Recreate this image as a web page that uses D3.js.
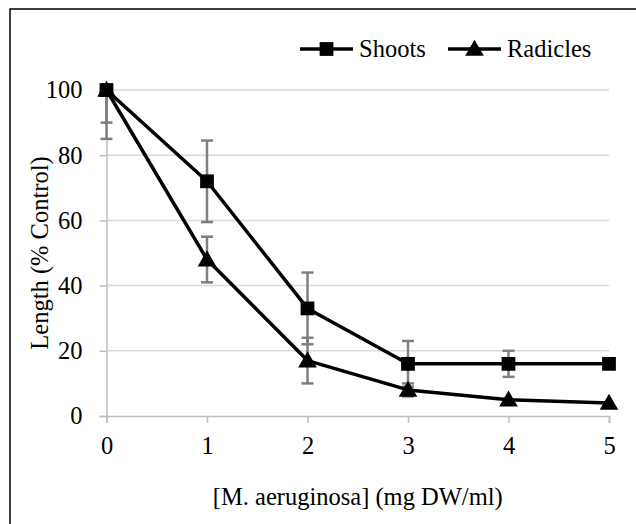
<!DOCTYPE html>
<html><head><meta charset="utf-8">
<script src="https://cdn.jsdelivr.net/npm/d3@7"></script>
<style>html,body{margin:0;padding:0;background:#fff;}svg{display:block;}
svg text{font-family:"Liberation Serif","Times New Roman",Times,serif !important;}</style>
</head><body>
<svg id="chart" width="636" height="524"></svg>
<script>
const concentrations = [0, 1, 2, 3, 4, 5];
const shoots = [100, 72, 33, 16, 16, 16];
const shootsErr = [10, 12.5, 11, 7, 4, 0];
const radicles = [100, 48, 17, 8, 5, 4];
const radiclesErr = [15, 7, 7, 2, 0, 0];
const yTicks = [0, 20, 40, 60, 80, 100];
const xTicks = [0, 1, 2, 3, 4, 5];
const seriesNames = ["Shoots", "Radicles"];

const svg = d3.select("#chart");
const font = "Liberation Serif";
const fs = 24.5;

svg.append("rect").attr("x", 10).attr("y", 9).attr("width", 640).attr("height", 540)
  .attr("fill", "#fff").attr("stroke", "#000").attr("stroke-width", 1.5);

const x = d3.scaleLinear().domain([0, 5]).range([106.5, 609]);
const y = d3.scaleLinear().domain([0, 100]).range([416, 90]);

// gridlines
svg.append("g").selectAll("line").data(yTicks.filter(d => d > 0)).join("line")
  .attr("x1", x(0)).attr("x2", x(5)).attr("y1", d => y(d)).attr("y2", d => y(d))
  .attr("stroke", "#d9d9d9").attr("stroke-width", 1.5);

// y axis
const yAxis = svg.append("g").attr("transform", `translate(${x(0)},0)`)
  .call(d3.axisLeft(y).tickValues(yTicks).tickSize(7).tickPadding(17));
yAxis.attr("font-family", null);
yAxis.select(".domain").attr("stroke", "#bfbfbf").attr("stroke-width", 1.5);
yAxis.selectAll(".tick line").attr("stroke", "#bfbfbf").attr("stroke-width", 1.5);
yAxis.selectAll("text").style("font-family", font).style("font-size", fs + "px").attr("fill", "#000");

// x axis
const xAxis = svg.append("g").attr("transform", `translate(0,${y(0)})`)
  .call(d3.axisBottom(x).tickValues(xTicks).tickSize(7).tickPadding(14).tickFormat(d3.format("d")));
xAxis.attr("font-family", null);
xAxis.select(".domain").attr("stroke", "#bfbfbf").attr("stroke-width", 1.5);
xAxis.selectAll(".tick line").attr("stroke", "#bfbfbf").attr("stroke-width", 1.5);
xAxis.selectAll("text").style("font-family", font).style("font-size", fs + "px").attr("fill", "#000");

// titles
svg.append("text").attr("x", (x(0) + x(5)) / 2).attr("y", 505).attr("text-anchor", "middle")
  .style("font-family", font).style("font-size", fs + "px").text("[M. aeruginosa] (mg DW/ml)");
svg.append("text").attr("transform", `translate(48,${y(50)}) rotate(-90)`).attr("text-anchor", "middle")
  .style("font-family", font).style("font-size", fs + "px").text("Length (% Control)");

// clip for error bars
svg.append("clipPath").attr("id", "plotclip").append("rect")
  .attr("x", 0).attr("y", y(100)).attr("width", 636).attr("height", 524);

const series = [
  {name: seriesNames[0], vals: shoots, err: shootsErr, sym: d3.symbolSquare, size: 190},
  {name: seriesNames[1], vals: radicles, err: radiclesErr, sym: d3.symbolTriangle, size: 150}
];

// error bars
series.forEach(s => {
  const g = svg.append("g").attr("clip-path", "url(#plotclip)").attr("stroke", "#7f7f7f").attr("stroke-width", 2.5);
  concentrations.forEach((c, i) => {
    const e = s.err[i];
    if (!e) return;
    const cx = x(c), yl = y(s.vals[i] - e), yh = y(s.vals[i] + e);
    g.append("line").attr("x1", cx).attr("x2", cx).attr("y1", yl).attr("y2", yh);
    g.append("line").attr("x1", cx - 6).attr("x2", cx + 6).attr("y1", yl).attr("y2", yl);
    g.append("line").attr("x1", cx - 6).attr("x2", cx + 6).attr("y1", yh).attr("y2", yh);
  });
});

// lines and markers
const line = d3.line().x((d, i) => x(concentrations[i])).y(d => y(d));
series.forEach(s => {
  svg.append("path").datum(s.vals).attr("d", line).attr("fill", "none")
    .attr("stroke", "#000").attr("stroke-width", 3.5).attr("stroke-linejoin", "round");
  svg.append("g").selectAll("path").data(s.vals).join("path")
    .attr("transform", (d, i) => `translate(${x(concentrations[i])},${y(d) + (s.sym === d3.symbolTriangle ? 1.5 : 0)})`)
    .attr("d", d3.symbol().type(s.sym).size(s.size)).attr("fill", "#000");
});

// legend
const legendItems = [
  {s: series[0], x0: 300, x1: 353, tx: 359},
  {s: series[1], x0: 448, x1: 501, tx: 507}
];
const ly = 49;
legendItems.forEach(li => {
  svg.append("line").attr("x1", li.x0).attr("x2", li.x1).attr("y1", ly).attr("y2", ly)
    .attr("stroke", "#000").attr("stroke-width", 3.5);
  svg.append("path").attr("transform", `translate(${(li.x0 + li.x1) / 2},${ly + (li.s.sym === d3.symbolTriangle ? 1.5 : 0)})`)
    .attr("d", d3.symbol().type(li.s.sym).size(li.s.size)).attr("fill", "#000");
  svg.append("text").attr("x", li.tx).attr("y", ly).attr("dy", "0.33em")
    .style("font-family", font).style("font-size", fs + "px").text(li.s.name);
});
</script>
</body></html>
